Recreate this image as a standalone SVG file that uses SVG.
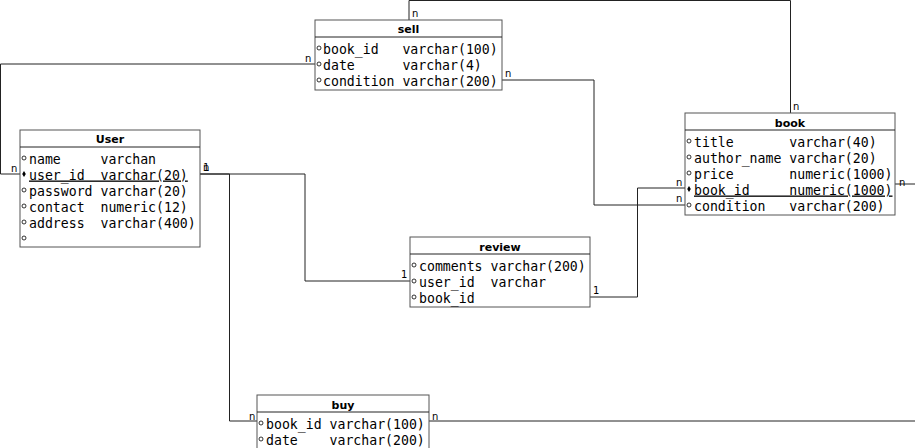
<svg xmlns="http://www.w3.org/2000/svg" width="915" height="448" viewBox="0 0 915 448">
<style>
.box{fill:#fff;stroke:#555;stroke-width:1}
.hd{font-family:"DejaVu Sans",sans-serif;font-size:11px;font-weight:bold;text-anchor:middle;fill:#000}
.at{font-family:"DejaVu Sans Mono",monospace;font-size:13.2px;fill:#000;white-space:pre}
.pk{text-decoration:underline}
.dot{fill:#fff;stroke:#000;stroke-width:0.8}
.dia{fill:#000}
.ln{fill:none;stroke:#222;stroke-width:1}
.lb{font-family:"DejaVu Sans",sans-serif;font-size:10px;fill:#000}
</style>
<rect width="915" height="448" fill="#fff"/>
<g id="connectors">
<polyline class="ln" points="409,20 409,0.5 790.5,0.5 790.5,113"/>
<polyline class="ln" points="315,64 0.5,64 0.5,174 20,174"/>
<polyline class="ln" points="502,80 594,80 594,205 685,205"/>
<polyline class="ln" points="895,184 915,184"/>
<polyline class="ln" points="200,174 305,174 305,281 410,281"/>
<polyline class="ln" points="200,174 229.5,174 229.5,421 257,421"/>
<polyline class="ln" points="590,297 637.5,297 637.5,188 685,188"/>
<polyline class="ln" points="429,421 915,421"/>
<text class="lb" x="412" y="17">n</text>
<text class="lb" x="793" y="110">n</text>
<text class="lb" x="305" y="62">n</text>
<text class="lb" x="11" y="172">n</text>
<text class="lb" x="505" y="77">n</text>
<text class="lb" x="676" y="202">n</text>
<text class="lb" x="899" y="186">n</text>
<text class="lb" x="203" y="171">n</text>
<text class="lb" x="203" y="171">1</text>
<text class="lb" x="401" y="278">1</text>
<text class="lb" x="249" y="420">n</text>
<text class="lb" x="593" y="294">1</text>
<text class="lb" x="676" y="186">n</text>
<text class="lb" x="432" y="420">n</text>
</g>
<g id="sell">
<rect class="box" x="315" y="20" width="187" height="70"/>
<line class="ln" x1="315" y1="37" x2="502" y2="37" stroke="#555"/>
<text class="hd" x="408.5" y="33">sell</text>
<circle class="dot" cx="319" cy="48" r="2"/>
<circle class="dot" cx="319" cy="64" r="2"/>
<circle class="dot" cx="319" cy="80" r="2"/>
<text class="at" x="323" y="53.5">book_id   varchar(100)</text>
<text class="at" x="323" y="69.5">date      varchar(4)</text>
<text class="at" x="323" y="85.5">condition varchar(200)</text>
</g>
<g id="User">
<rect class="box" x="20" y="130" width="180" height="117"/>
<line class="ln" x1="20" y1="147" x2="200" y2="147" stroke="#555"/>
<text class="hd" x="110" y="143">User</text>
<circle class="dot" cx="24" cy="158" r="2"/>
<path class="dia" d="M24,171 L25.8,174 L24,177 L22.2,174 Z"/>
<circle class="dot" cx="24" cy="190" r="2"/>
<circle class="dot" cx="24" cy="206" r="2"/>
<circle class="dot" cx="24" cy="222" r="2"/>
<circle class="dot" cx="24" cy="238" r="2"/>
<text class="at" x="29" y="163.5">name     varchan</text>
<text class="at pk" x="29" y="179.5">user_id  varchar(20)</text>
<text class="at" x="29" y="195.5">password varchar(20)</text>
<text class="at" x="29" y="211.5">contact  numeric(12)</text>
<text class="at" x="29" y="227.5">address  varchar(400)</text>
</g>
<g id="book">
<rect class="box" x="685" y="113" width="210" height="102"/>
<line class="ln" x1="685" y1="130" x2="895" y2="130" stroke="#555"/>
<text class="hd" x="790" y="127">book</text>
<circle class="dot" cx="689" cy="141" r="2"/>
<circle class="dot" cx="689" cy="157" r="2"/>
<circle class="dot" cx="689" cy="173" r="2"/>
<path class="dia" d="M689,186 L690.8,189 L689,192 L687.2,189 Z"/>
<circle class="dot" cx="689" cy="205" r="2"/>
<text class="at" x="694" y="146.5">title       varchar(40)</text>
<text class="at" x="694" y="162.5">author_name varchar(20)</text>
<text class="at" x="694" y="178.5">price       numeric(1000)</text>
<text class="at pk" x="694" y="194.5">book_id     numeric(1000)</text>
<text class="at" x="694" y="210.5">condition   varchar(200)</text>
</g>
<g id="review">
<rect class="box" x="410" y="237" width="180" height="70"/>
<line class="ln" x1="410" y1="254" x2="590" y2="254" stroke="#555"/>
<text class="hd" x="500" y="251">review</text>
<circle class="dot" cx="414" cy="265" r="2"/>
<circle class="dot" cx="414" cy="281" r="2"/>
<circle class="dot" cx="414" cy="297" r="2"/>
<text class="at" x="419" y="270.5">comments varchar(200)</text>
<text class="at" x="419" y="286.5">user_id  varchar</text>
<text class="at" x="419" y="302.5">book_id</text>
</g>
<g id="buy">
<rect class="box" x="257" y="395" width="172" height="70"/>
<line class="ln" x1="257" y1="412" x2="429" y2="412" stroke="#555"/>
<text class="hd" x="343" y="409">buy</text>
<circle class="dot" cx="261" cy="423" r="2"/>
<circle class="dot" cx="261" cy="439" r="2"/>
<text class="at" x="266" y="428.5">book_id varchar(100)</text>
<text class="at" x="266" y="444.5">date    varchar(200)</text>
</g>
</svg>
